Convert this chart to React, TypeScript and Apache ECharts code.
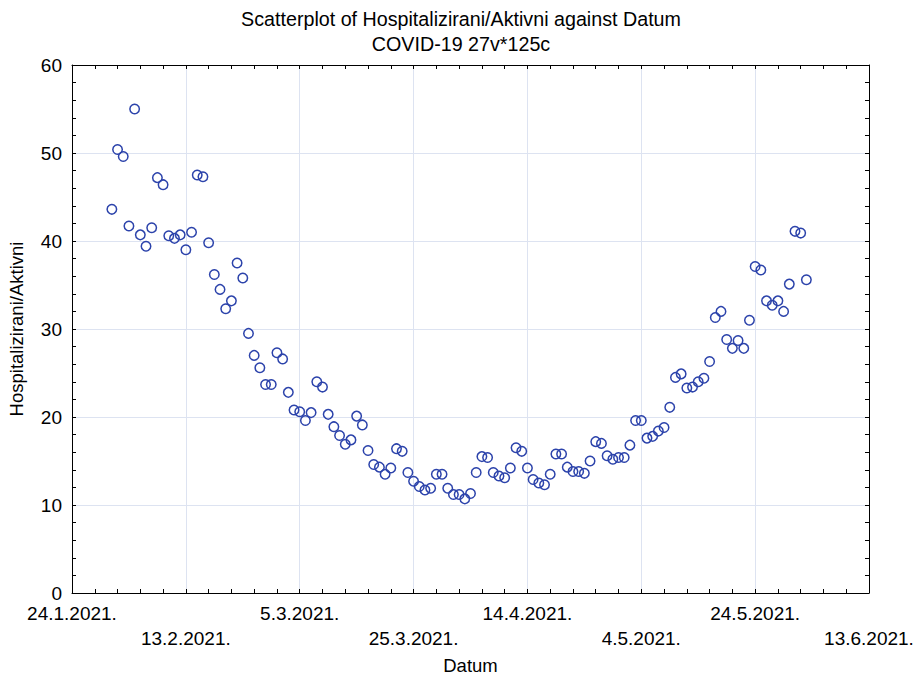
import React, { useEffect, useRef } from "react";
import * as echarts from "echarts";

// Axis starts at 24.1.2021 (day 0); first observation 31.1.2021, one per day
const axisStartDate = "2021-01-24";
const firstObservationDate = "2021-01-31";

const tickLabels = [
  "24.1.2021.",
  "13.2.2021.",
  "5.3.2021.",
  "25.3.2021.",
  "14.4.2021.",
  "4.5.2021.",
  "24.5.2021.",
  "13.6.2021.",
];

const yTicks = [0, 10, 20, 30, 40, 50, 60];

// Hospitalizirani/Aktivni (%), consecutive days from firstObservationDate
const hospitalizedRatio = [
  43.6, 50.4, 49.6, 41.7, 55.0, 40.7, 39.4, 41.5, 47.2, 46.4,
  40.6, 40.3, 40.7, 39.0, 41.0, 47.5, 47.3, 39.8, 36.2, 34.5,
  32.3, 33.2, 37.5, 35.8, 29.5, 27.0, 25.6, 23.7, 23.7, 27.3,
  26.6, 22.8, 20.8, 20.6, 19.6, 20.5, 24.0, 23.4, 20.3, 18.9,
  17.9, 16.9, 17.4, 20.1, 19.1, 16.2, 14.6, 14.3, 13.5, 14.2,
  16.4, 16.1, 13.7, 12.7, 12.1, 11.7, 11.9, 13.5, 13.5, 11.9,
  11.2, 11.2, 10.7, 11.3, 13.7, 15.5, 15.4, 13.7, 13.3, 13.1,
  14.2, 16.5, 16.1, 14.2, 12.9, 12.5, 12.3, 13.5, 15.8, 15.8,
  14.3, 13.8, 13.8, 13.6, 15.0, 17.2, 17.0, 15.6, 15.2, 15.4,
  15.4, 16.8, 19.6, 19.6, 17.6, 17.8, 18.4, 18.8, 21.1, 24.5,
  24.9, 23.3, 23.4, 24.0, 24.4, 26.3, 31.3, 32.0, 28.8, 27.8,
  28.7, 27.8, 31.0, 37.1, 36.7, 33.2, 32.7, 33.2, 32.0, 35.1,
  41.1, 40.9, 35.6,
];

const DAY = 86400000;
const tickStepDays = 20;

export default function App() {
  const ref = useRef<HTMLDivElement>(null);

  useEffect(() => {
    if (!ref.current) return;
    const chart = echarts.init(ref.current, null, { renderer: "svg" });

    const start = Date.parse(axisStartDate);
    const firstDay = Math.round((Date.parse(firstObservationDate) - start) / DAY);
    const data = hospitalizedRatio.map((v, i) => [firstDay + i, v]);

    const xMax = (tickLabels.length - 1) * tickStepDays;
    const font = "Liberation Sans, Arial, sans-serif";

    const tickCommon = {
      axisLine: { show: true, onZero: false, lineStyle: { color: "#000", width: 1 } },
      axisTick: { show: true, inside: true, length: 4, lineStyle: { color: "#000" } },
      minorTick: { show: true, splitNumber: 5, length: 4, lineStyle: { color: "#000" } },
    };

    chart.setOption({
      animation: false,
      backgroundColor: "#fff",
      title: [
        {
          text: "Scatterplot of Hospitalizirani/Aktivni against Datum",
          left: "center",
          top: 4,
          textStyle: { fontFamily: font, fontSize: 19.7, fontWeight: "normal", color: "#000" },
        },
        {
          text: "COVID-19 27v*125c",
          left: "center",
          top: 29,
          textStyle: { fontFamily: font, fontSize: 19.7, fontWeight: "normal", color: "#000" },
        },
      ],
      grid: {
        left: 72,
        right: 53,
        top: 65,
        bottom: 88,
        containLabel: false,
        outerBoundsMode: "none",
      },
      xAxis: [
        {
          type: "value",
          position: "bottom",
          min: 0,
          max: xMax,
          interval: tickStepDays,
          name: "Datum",
          nameLocation: "middle",
          nameGap: 62,
          nameTextStyle: { fontFamily: font, fontSize: 18.5, color: "#000" },
          ...tickCommon,
          axisLabel: {
            show: true,
            margin: 8,
            fontFamily: font,
            fontSize: 19,
            color: "#000",
            lineHeight: 25,
            showMinLabel: true,
            showMaxLabel: true,
            formatter: (v: number) => {
              const i = Math.round(v / tickStepDays);
              const t = tickLabels[i] ?? "";
              return i % 2 === 1 ? "\n" + t : t;
            },
          },
          splitLine: { show: true, lineStyle: { color: "#dde3f1", width: 1 } },
        },
        {
          type: "value",
          position: "top",
          min: 0,
          max: xMax,
          interval: tickStepDays,
          ...tickCommon,
          axisLabel: { show: false },
          splitLine: { show: false },
        },
      ],
      yAxis: [
        {
          type: "value",
          position: "left",
          min: yTicks[0],
          max: yTicks[yTicks.length - 1],
          interval: yTicks[1] - yTicks[0],
          name: "Hospitalizirani/Aktivni",
          nameLocation: "middle",
          nameGap: 46,
          nameTextStyle: { fontFamily: font, fontSize: 18.5, color: "#000" },
          ...tickCommon,
          axisLabel: {
            show: true,
            margin: 10,
            fontFamily: font,
            fontSize: 19,
            color: "#000",
          },
          splitLine: { show: true, lineStyle: { color: "#dde3f1", width: 1 } },
        },
        {
          type: "value",
          position: "right",
          min: yTicks[0],
          max: yTicks[yTicks.length - 1],
          interval: yTicks[1] - yTicks[0],
          ...tickCommon,
          axisLabel: { show: false },
          splitLine: { show: false },
        },
      ],
      series: [
        {
          type: "scatter",
          xAxisIndex: 0,
          yAxisIndex: 0,
          data,
          symbol: "circle",
          symbolSize: 9.5,
          itemStyle: {
            color: "rgba(0,0,0,0)",
            borderColor: "#2c43ab",
            borderWidth: 1.5,
            opacity: 1,
          },
          emphasis: { disabled: true },
        },
      ],
    });

    return () => chart.dispose();
  }, []);

  return (
    <div
      ref={ref}
      style={{ position: "fixed", left: 0, top: 0, width: 922, height: 681, background: "#fff" }}
    />
  );
}
